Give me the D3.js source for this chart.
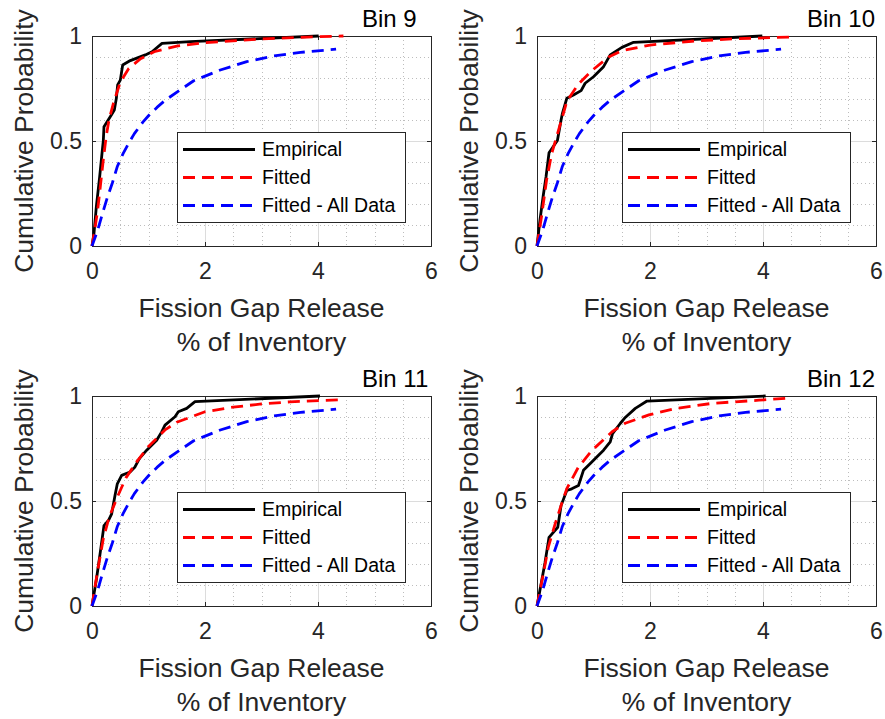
<!DOCTYPE html>
<html>
<head>
<meta charset="utf-8">
<script src="https://cdn.jsdelivr.net/npm/d3@7"></script>
<style>
  body { margin: 0; background: #fff; }
  svg { display: block; font-family: "Liberation Sans", Arial, Helvetica, sans-serif; }
</style>
</head>
<body>
<svg id="fig" width="885" height="719"></svg>
<script>
// Panel titles and axis ticks
const binTitles = ["Bin 9", "Bin 10", "Bin 11", "Bin 12"];
const xTicks = [0, 2, 4, 6];
const yTicks = [0, 0.5, 1];
const yTickLabels = ["0", "0.5", "1"];
const legendLabels = ["Empirical", "Fitted", "Fitted - All Data"];

// Empirical CDFs, [release %, cumulative probability]
const empirical9 = [[0,0],[0.035,0.06],[0.077,0.187],[0.136,0.33],[0.177,0.441],[0.2,0.5],[0.212,0.568],
  [0.342,0.624],[0.395,0.648],[0.431,0.703],[0.454,0.767],[0.501,0.79],[0.543,0.862],[0.678,0.883],
  [0.944,0.91],[1.062,0.925],[1.239,0.965],[1.74,0.973],[4.012,1.0]];
const empirical10 = [[0,0],[0.053,0.124],[0.112,0.243],[0.16,0.33],[0.213,0.444],[0.361,0.502],
  [0.426,0.6],[0.45,0.632],[0.527,0.703],[0.645,0.719],[0.781,0.74],[0.852,0.775],[1.0,0.806],
  [1.178,0.854],[1.296,0.91],[1.503,0.946],[1.71,0.97],[3.988,1.0]];
const empirical11 = [[0,0],[0.083,0.136],[0.142,0.247],[0.212,0.383],[0.29,0.407],[0.348,0.439],
  [0.407,0.526],[0.448,0.582],[0.525,0.622],[0.673,0.638],[0.761,0.662],[0.838,0.702],[0.968,0.742],
  [1.145,0.789],[1.233,0.829],[1.292,0.861],[1.469,0.901],[1.528,0.925],[1.676,0.941],[1.823,0.973],
  [4.035,1.0]];
const empirical12 = [[0,0],[0.083,0.12],[0.142,0.207],[0.213,0.327],[0.367,0.375],[0.426,0.478],
  [0.527,0.55],[0.615,0.558],[0.734,0.574],[0.822,0.646],[0.97,0.686],[1.178,0.742],[1.296,0.781],
  [1.337,0.821],[1.473,0.869],[1.562,0.898],[1.74,0.941],[1.947,0.976],[4.047,1.0]];

// Fitted distributions per bin
const fitted9 = [[0,0],[0.05,0.08],[0.1,0.17],[0.15,0.29],[0.2,0.41],[0.25,0.52],[0.3,0.6],
  [0.38,0.68],[0.5,0.78],[0.65,0.845],[0.85,0.89],[1.1,0.925],[1.5,0.952],[2.0,0.968],
  [3.0,0.986],[4.0,0.997],[4.45,1.0]];
const fitted10 = [[0,0],[0.08,0.14],[0.17,0.315],[0.26,0.44],[0.38,0.55],[0.53,0.69],[0.73,0.77],
  [0.97,0.835],[1.27,0.9],[1.5,0.93],[2.0,0.957],[2.74,0.975],[3.5,0.987],[4.48,0.995]];
const fitted11 = [[0,0],[0.1,0.17],[0.2,0.32],[0.3,0.42],[0.45,0.52],[0.6,0.61],[0.8,0.69],
  [1.0,0.76],[1.3,0.84],[1.5,0.875],[2.0,0.925],[2.5,0.947],[3.0,0.962],[3.5,0.972],[4.36,0.982]];
const fitted12 = [[0,0],[0.11,0.15],[0.2,0.28],[0.32,0.39],[0.44,0.49],[0.53,0.56],[0.73,0.66],
  [0.97,0.74],[1.33,0.83],[1.56,0.87],[1.98,0.91],[2.45,0.94],[3.1,0.965],[3.93,0.98],[4.46,0.99]];

// Distribution fitted to all bins together (same in every panel)
const fittedAll = [[0,0],[0.1,0.075],[0.18,0.15],[0.27,0.23],[0.36,0.3],[0.45,0.38],[0.55,0.44],
  [0.65,0.49],[0.75,0.535],[0.9,0.59],[1.0,0.62],[1.15,0.66],[1.3,0.695],[1.8,0.787],[2.27,0.838],
  [2.74,0.878],[3.22,0.905],[3.69,0.922],[4.32,0.937]];

const empiricalSets = [empirical9, empirical10, empirical11, empirical12];
const fittedSets = [fitted9, fitted10, fitted11, fitted12];

const svg = d3.select("#fig");
const plotW = 339, plotH = 210;
const lefts = [92, 537], tops = [36, 396];
const axisColor = "#262626";
const textColor = "#262626";

const seriesStyle = [
  { color: "#000000", dash: null },
  { color: "#ff0000", dash: "12,7" },
  { color: "#0000ff", dash: "12,7" }
];

binTitles.forEach((title, i) => {
  const left = lefts[i % 2], top = tops[Math.floor(i / 2)];
  const g = svg.append("g").attr("transform", `translate(${left},${top})`);

  const x = d3.scaleLinear().domain([0, 6]).range([0, plotW]);
  const y = d3.scaleLinear().domain([0, 1]).range([plotH, 0]);

  // minor grid (dotted)
  const minorX = d3.range(0.5, 6, 0.5).filter(v => Math.abs(v % 2) > 1e-9);
  const minorY = d3.range(1, 10).map(v => v / 10).filter(v => Math.abs(v - 0.5) > 1e-9);
  g.append("g").selectAll("line").data(minorX).join("line")
    .attr("x1", d => Math.round(x(d)) + 0.5).attr("x2", d => Math.round(x(d)) + 0.5)
    .attr("y1", 0).attr("y2", plotH)
    .attr("stroke", "#bdbdbd").attr("stroke-width", 1).attr("stroke-dasharray", "1,3");
  g.append("g").selectAll("line").data(minorY).join("line")
    .attr("y1", d => Math.round(y(d)) + 0.5).attr("y2", d => Math.round(y(d)) + 0.5)
    .attr("x1", 0).attr("x2", plotW)
    .attr("stroke", "#bdbdbd").attr("stroke-width", 1).attr("stroke-dasharray", "1,3");

  // major grid (solid)
  g.append("g").selectAll("line").data([2, 4]).join("line")
    .attr("x1", d => Math.round(x(d)) + 0.5).attr("x2", d => Math.round(x(d)) + 0.5)
    .attr("y1", 0).attr("y2", plotH).attr("stroke", "#dcdcdc").attr("stroke-width", 1);
  g.append("g").selectAll("line").data([0.5]).join("line")
    .attr("y1", d => Math.round(y(d)) + 0.5).attr("y2", d => Math.round(y(d)) + 0.5)
    .attr("x1", 0).attr("x2", plotW).attr("stroke", "#dcdcdc").attr("stroke-width", 1);

  // axes with inward ticks, on all four sides
  const xAxisB = d3.axisBottom(x).tickValues(xTicks).tickSize(-4).tickPadding(17).tickFormat(d3.format("d"));
  const xAxisT = d3.axisTop(x).tickValues(xTicks).tickSize(-4).tickFormat("");
  const yAxisL = d3.axisLeft(y).tickValues(yTicks).tickSize(-4).tickPadding(10)
    .tickFormat((d, k) => yTickLabels[k]);
  const yAxisR = d3.axisRight(y).tickValues(yTicks).tickSize(-4).tickFormat("");

  const styleAxis = sel => {
    sel.select(".domain").attr("stroke", axisColor).attr("stroke-width", 1);
    sel.selectAll(".tick line").attr("stroke", axisColor).attr("stroke-width", 1);
    sel.selectAll(".tick text").attr("fill", textColor).attr("font-size", 23)
      .attr("font-family", "Liberation Sans, Arial, sans-serif");
  };
  g.append("g").attr("transform", `translate(0,${plotH})`).call(xAxisB).call(styleAxis);
  g.append("g").call(xAxisT).call(styleAxis);
  g.append("g").call(yAxisL).call(styleAxis);
  g.append("g").attr("transform", `translate(${plotW},0)`).call(yAxisR).call(styleAxis);

  // curves
  const line = d3.line().x(d => x(d[0])).y(d => y(d[1]));
  const sets = [empiricalSets[i], fittedSets[i], fittedAll];
  sets.forEach((data, k) => {
    g.append("path").datum(data)
      .attr("d", line)
      .attr("fill", "none")
      .attr("stroke", seriesStyle[k].color)
      .attr("stroke-width", 2.8)
      .attr("stroke-linejoin", "round")
      .attr("stroke-dasharray", seriesStyle[k].dash);
  });

  // legend
  const lg = g.append("g").attr("transform", "translate(85,96)");
  lg.append("rect").attr("x", 0.5).attr("y", 0.5).attr("width", 228).attr("height", 90)
    .attr("fill", "#fff").attr("stroke", axisColor).attr("stroke-width", 1);
  legendLabels.forEach((lab, k) => {
    const ry = 17.5 + k * 28;
    lg.append("line").attr("x1", 6).attr("x2", 78).attr("y1", ry).attr("y2", ry)
      .attr("stroke", seriesStyle[k].color).attr("stroke-width", 2.8)
      .attr("stroke-dasharray", seriesStyle[k].dash);
    lg.append("text").attr("x", 85).attr("y", ry).attr("dy", "0.35em")
      .attr("font-size", 19.5).attr("fill", "#000").text(lab);
  });

  // title
  g.append("text").attr("x", 270).attr("y", -9)
    .attr("font-size", 24).attr("fill", "#000").text(title);

  // axis labels
  g.append("text").attr("x", plotW / 2).attr("y", plotH + 71)
    .attr("text-anchor", "middle").attr("font-size", 26.5).attr("fill", textColor)
    .text("Fission Gap Release");
  g.append("text").attr("x", plotW / 2).attr("y", plotH + 105)
    .attr("text-anchor", "middle").attr("font-size", 26.5).attr("fill", textColor)
    .text("% of Inventory");
  g.append("text")
    .attr("transform", `translate(${33 - 92},${plotH / 2}) rotate(-90)`)
    .attr("text-anchor", "middle").attr("font-size", 26.5).attr("fill", textColor)
    .text("Cumulative Probability");
});
</script>
</body>
</html>
